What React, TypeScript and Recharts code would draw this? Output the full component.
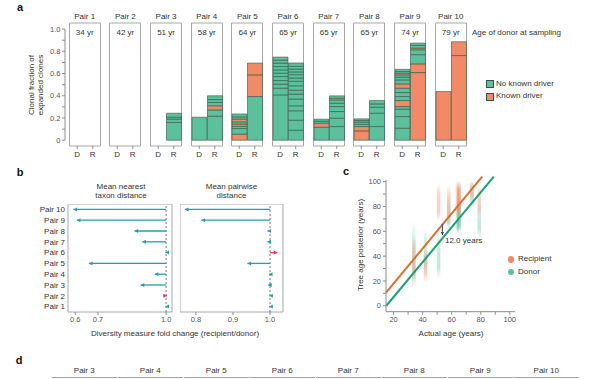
import React from 'react';
import {
  BarChart,
  Bar,
  Cell,
  ComposedChart,
  XAxis,
  YAxis,
  ReferenceArea,
  ReferenceLine,
} from 'recharts';

const FONT = '"Liberation Sans", Arial, Helvetica, sans-serif';
const INK = '#333';
const TICK = '#555';
const AXIS = '#8c8c8c';
const BOX = '#a8a8a8';
const GREEN = '#5dc09c';
const ORANGE = '#f28a68';
const EDGE = '#2f5546';
const TEAL = '#23a2a4';
const PINK = '#d9366f';
const REC = '#d9702f';
const DON = '#1f9e72';

// ---- panel a: clonal fraction of expanded clones ----
const pairNames = ['Pair 1', 'Pair 2', 'Pair 3', 'Pair 4', 'Pair 5', 'Pair 6', 'Pair 7', 'Pair 8', 'Pair 9', 'Pair 10'];
const donorAges = [34, 42, 51, 58, 64, 65, 65, 65, 74, 79];
const driverLabels = ['No known driver', 'Known driver'];

// clone segments bottom -> top: [fraction, n = no known driver, k = known driver]
type Seg = [number, 'n' | 'k'];
const donorClones: Seg[][] = [
  [],
  [],
  [],
  [[0.207, 'n']],
  [[0.055, 'k'], [0.05, 'n'], [0.02, 'n'], [0.02, 'k'], [0.02, 'n'], [0.025, 'k'], [0.02, 'n'], [0.026, 'n']],
  [[0.408, 'n'], [0.06, 'n'], [0.037, 'n'], [0.032, 'n'], [0.036, 'n'], [0.03, 'n'], [0.03, 'n'], [0.03, 'n'], [0.031, 'n'], [0.026, 'n'], [0.028, 'n']],
  [[0.117, 'n'], [0.036, 'k'], [0.018, 'n'], [0.018, 'n']],
  [[0.084, 'k'], [0.039, 'k'], [0.02, 'n'], [0.02, 'n'], [0.015, 'n'], [0.014, 'n']],
  [[0.108, 'n'], [0.105, 'n'], [0.066, 'n'], [0.024, 'n'], [0.054, 'k'], [0.036, 'n'], [0.036, 'n'], [0.039, 'n'], [0.039, 'k'], [0.036, 'n'], [0.025, 'n'], [0.02, 'n'], [0.015, 'k'], [0.015, 'n'], [0.02, 'n']],
  [[0.438, 'k']],
];
const recipClones: Seg[][] = [
  [],
  [],
  [[0.16, 'n'], [0.03, 'n'], [0.017, 'n'], [0.036, 'n']],
  [[0.216, 'n'], [0.057, 'n'], [0.037, 'k'], [0.03, 'n'], [0.026, 'n'], [0.034, 'n']],
  [[0.393, 'n'], [0.195, 'k'], [0.106, 'k']],
  [[0.09, 'n'], [0.09, 'n'], [0.085, 'n'], [0.045, 'n'], [0.06, 'n'], [0.045, 'n'], [0.035, 'n'], [0.04, 'n'], [0.04, 'n'], [0.03, 'n'], [0.03, 'n'], [0.025, 'n'], [0.025, 'n'], [0.025, 'n'], [0.03, 'n']],
  [[0.123, 'n'], [0.075, 'n'], [0.06, 'n'], [0.045, 'n'], [0.03, 'n'], [0.03, 'n'], [0.015, 'k'], [0.021, 'n']],
  [[0.123, 'n'], [0.12, 'n'], [0.054, 'n'], [0.03, 'n'], [0.03, 'n']],
  [[0.609, 'k'], [0.078, 'k'], [0.083, 'n'], [0.044, 'n'], [0.015, 'k'], [0.024, 'n'], [0.021, 'n']],
  [[0.762, 'k'], [0.124, 'k']],
];
const fracTicks = [0, 0.1, 0.2, 0.3, 0.4, 0.5, 0.6, 0.7, 0.8, 0.9, 1.0];
const FRAC_DOMAIN: [number, number] = [-0.052, 1.055];

// ---- panel b: diversity fold change (recipient/donor), Pair 1..10 ----
const ntdFold = [0.997, 1.004, 0.888, 0.95, 0.66, 0.997, 0.895, 0.861, 0.607, 0.592];
const mpdFold = [0.998, 0.998, 0.995, 0.997, 0.939, 1.02, 0.993, 0.993, 0.815, 0.77];
const ntdTicks = [0.6, 0.7, 1.0];
const mpdTicks = [0.8, 0.9, 1.0];

// ---- panel c: tree age posterior vs actual age ----
const recipRange: [number, number][] = [[18, 55], [19, 45], [68, 98], [65, 97], [72, 101], [75, 101], [70, 98], [74, 100], [85, 101], [72, 97]];
const donorRange: [number, number][] = [[13, 68], [25, 62], [22, 60], [60, 88], [57, 84], [60, 85], [58, 82], [62, 86], [78, 100], [55, 82]];
const recipFit = [{ age: 14.8, y: 10.5 }, { age: 81, y: 104 }];
const donorFit = [{ age: 15, y: 0 }, { age: 89, y: 104 }];
const gapArrow = [{ age: 53.6, y: 66 }, { age: 53.6, y: 57 }];
const gapLabel = '12.0 years';
const ageTicks = [20, 30, 40, 50, 60, 70, 80, 90, 100];
const postTicks = [0, 10, 20, 30, 40, 50, 60, 70, 80, 90, 100];

const boxLeft = (i: number) => 67.7 + i * 40.67;
const tickFont = { fontSize: 7.5, fill: TICK, fontFamily: FONT };

function Txt({ x, y, children, size = 8, anchor = 'middle', bold = false, rotate = 0, color = INK }: any) {
  const tx = anchor === 'middle' ? '-50%' : anchor === 'end' ? '-100%' : '0';
  return (
    <div
      style={{
        position: 'absolute',
        left: x,
        top: y,
        transform: `translate(${tx},-50%)${rotate ? ` rotate(${rotate}deg)` : ''}`,
        fontSize: size,
        fontWeight: bold ? 700 : 400,
        color,
        whiteSpace: 'nowrap',
        textAlign: 'center',
        lineHeight: 1.15,
        fontFamily: FONT,
      }}
    >
      {children}
    </div>
  );
}

const arrowShape = (color: string, width: number, head: number) => (p: any) => {
  const { x1, y1, x2, y2 } = p;
  const ang = Math.atan2(y2 - y1, x2 - x1);
  const bx = x2 - head * Math.cos(ang);
  const by = y2 - head * Math.sin(ang);
  const nx = -Math.sin(ang) * head * 0.55;
  const ny = Math.cos(ang) * head * 0.55;
  return (
    <g>
      <line x1={x1} y1={y1} x2={x2} y2={y2} stroke={color} strokeWidth={width} />
      <path d={`M${x2},${y2}L${bx + nx},${by + ny}L${bx - nx},${by - ny}Z`} fill={color} />
    </g>
  );
};

const maxSeg = Math.max(...donorClones.map((s) => s.length), ...recipClones.map((s) => s.length));
const segKeys = Array.from({ length: maxSeg }, (_, j) => `s${j}`);

function PairBars({ idx }: { idx: number }) {
  const sides: [string, Seg[]][] = [
    ['D', donorClones[idx]],
    ['R', recipClones[idx]],
  ];
  const rows = sides.map(([side, segs]) => {
    const row: Record<string, any> = { side };
    segs.forEach(([v], j) => {
      row[`s${j}`] = v;
    });
    return row;
  });
  return (
    <div style={{ position: 'absolute', left: boxLeft(idx), top: 0 }}>
      <BarChart width={34} height={162} data={rows} margin={{ top: 23, right: 0, bottom: 0, left: 0 }} barCategoryGap={0.5}>
        <XAxis
          dataKey="side"
          axisLine={false}
          tickLine={{ stroke: AXIS }}
          tickSize={3}
          tickMargin={2}
          height={16}
          interval={0}
          padding={{ left: 1.5, right: 1.5 }}
          tick={{ fontSize: 8, fill: INK, fontFamily: FONT }}
        />
        <YAxis hide width={0} type="number" domain={FRAC_DOMAIN} allowDataOverflow />
        <ReferenceArea y1={FRAC_DOMAIN[0]} y2={FRAC_DOMAIN[1]} fill="none" stroke={BOX} ifOverflow="visible" />
        {segKeys.map((key, j) => (
          <Bar key={key} dataKey={key} stackId="c" stroke={EDGE} strokeWidth={0.6} isAnimationActive={false}>
            {sides.map(([side, segs]) => (
              <Cell key={side} fill={segs[j] && segs[j][1] === 'k' ? ORANGE : GREEN} />
            ))}
          </Bar>
        ))}
      </BarChart>
    </div>
  );
}

function FracAxis() {
  const rows = fracTicks.map((v) => ({ v }));
  return (
    <div style={{ position: 'absolute', left: 0, top: 0 }}>
      <ComposedChart width={68} height={162} data={rows} margin={{ top: 23, right: 3, bottom: 16, left: 0 }}>
        <XAxis hide type="number" domain={[0, 1]} />
        <YAxis
          type="number"
          domain={FRAC_DOMAIN}
          allowDataOverflow
          ticks={fracTicks}
          interval={0}
          width={65}
          axisLine={false}
          tickLine={{ stroke: AXIS }}
          tickSize={3}
          tickMargin={1.5}
          tick={tickFont}
          tickFormatter={(v: number) => (Math.round(v * 10) % 2 === 0 ? (v === 0 ? '0' : v.toFixed(1)) : '')}
        />
        <ReferenceLine segment={[{ x: 0, y: 0 }, { x: 0, y: 1 }]} stroke={AXIS} ifOverflow="visible" />
      </ComposedChart>
    </div>
  );
}

const bRows = pairNames
  .map((pair, i) => ({ pair, ntd: ntdFold[i], mpd: mpdFold[i] }))
  .reverse();

function FoldPanel({ left, width, field, domain, ticks, showPairs }: any) {
  return (
    <div style={{ position: 'absolute', left, top: 204 }}>
      <ComposedChart layout="vertical" width={width} height={126} data={bRows} margin={{ top: 0, right: 3, bottom: 0, left: 0 }}>
        <XAxis
          type="number"
          domain={domain}
          allowDataOverflow
          ticks={ticks}
          interval={0}
          height={18}
          axisLine={false}
          tickLine={{ stroke: AXIS }}
          tickSize={3}
          tickMargin={2}
          tick={tickFont}
          tickFormatter={(v: number) => v.toFixed(1)}
        />
        <YAxis
          type="category"
          scale="band"
          dataKey="pair"
          hide={!showPairs}
          width={showPairs ? 68 : 0}
          axisLine={false}
          tickLine={false}
          tickSize={0}
          tickMargin={3}
          interval={0}
          tick={{ fontSize: 8, fill: INK, fontFamily: FONT }}
        />
        <ReferenceArea x1={domain[0]} x2={domain[1]} fill="none" stroke={BOX} ifOverflow="visible" />
        <ReferenceLine x={1} stroke="#555" strokeDasharray="2 2" strokeWidth={0.8} />
        {bRows.map((r: any) => (
          <ReferenceLine
            key={r.pair}
            segment={[{ x: 1, y: r.pair }, { x: r[field], y: r.pair }]}
            ifOverflow="visible"
            shape={arrowShape(r[field] > 1 ? PINK : TEAL, 1.3, 3.6)}
          />
        ))}
      </ComposedChart>
    </div>
  );
}

function AgePanel() {
  const rows = donorAges.map((age, i) => ({ age, rec: recipRange[i], don: donorRange[i] }));
  return (
    <div style={{ position: 'absolute', left: 345, top: 170 }}>
      <ComposedChart width={175} height={172} data={rows} margin={{ top: 9.8, right: 5, bottom: 0, left: 0 }}>
        <defs>
          <linearGradient id="cloudRec" x1="0" y1="0" x2="0" y2="1">
            <stop offset="0%" stopColor={ORANGE} stopOpacity={0} />
            <stop offset="25%" stopColor={ORANGE} stopOpacity={0.7} />
            <stop offset="75%" stopColor={ORANGE} stopOpacity={0.8} />
            <stop offset="100%" stopColor={ORANGE} stopOpacity={0} />
          </linearGradient>
          <linearGradient id="cloudDon" x1="0" y1="0" x2="0" y2="1">
            <stop offset="0%" stopColor={GREEN} stopOpacity={0} />
            <stop offset="30%" stopColor={GREEN} stopOpacity={0.6} />
            <stop offset="75%" stopColor={GREEN} stopOpacity={0.75} />
            <stop offset="100%" stopColor={GREEN} stopOpacity={0} />
          </linearGradient>
        </defs>
        <XAxis
          type="number"
          dataKey="age"
          domain={[14.8, 103.6]}
          allowDataOverflow
          ticks={ageTicks}
          interval={0}
          height={30.3}
          stroke={AXIS}
          tickSize={3}
          tickMargin={2}
          tick={tickFont}
          tickFormatter={(v: number) => (v % 20 === 0 ? String(v) : '')}
        />
        <YAxis
          type="number"
          domain={[-4.8, 101.5]}
          allowDataOverflow
          ticks={postTicks}
          interval={0}
          width={41}
          stroke={AXIS}
          tickSize={3}
          tickMargin={2}
          tick={tickFont}
          tickFormatter={(v: number) => (v % 20 === 0 ? String(v) : '')}
        />
        {rows.map((r, i) => (
          <ReferenceArea key={`d${i}`} x1={r.age - 1.2} x2={r.age + 1.2} y1={r.don[0]} y2={r.don[1]} fill="url(#cloudDon)" ifOverflow="visible" />
        ))}
        {rows.map((r, i) => (
          <ReferenceArea key={`r${i}`} x1={r.age - 1.2} x2={r.age + 1.2} y1={r.rec[0]} y2={r.rec[1]} fill="url(#cloudRec)" ifOverflow="visible" />
        ))}
        <ReferenceLine segment={recipFit.map((p) => ({ x: p.age, y: p.y }))} stroke={REC} strokeWidth={2} ifOverflow="visible" />
        <ReferenceLine segment={donorFit.map((p) => ({ x: p.age, y: p.y }))} stroke={DON} strokeWidth={2} ifOverflow="visible" />
        <ReferenceLine
          segment={gapArrow.map((p) => ({ x: p.age, y: p.y }))}
          ifOverflow="visible"
          shape={arrowShape('#2d4a5a', 1, 3)}
        />
      </ComposedChart>
    </div>
  );
}

export default function App() {
  return (
    <div
      style={{
        position: 'absolute',
        left: 0,
        top: 0,
        width: 612,
        height: 379,
        overflow: 'hidden',
        background: '#fff',
        fontFamily: FONT,
      }}
    >
      {/* a */}
      <Txt x={20} y={7} size={11} bold color="#111">a</Txt>
      <FracAxis />
      {pairNames.map((name, i) => (
        <React.Fragment key={name}>
          <PairBars idx={i} />
          <Txt x={boxLeft(i) + 17} y={17}>{name}</Txt>
          <Txt x={boxLeft(i) + 17} y={33}>{`${donorAges[i]} yr`}</Txt>
        </React.Fragment>
      ))}
      <Txt x={36} y={85} rotate={-90}>
        Clonal fraction of
        <br />
        expanded clones
      </Txt>
      <Txt x={472} y={33} anchor="start">Age of donor at sampling</Txt>
      {driverLabels.map((label, i) => (
        <React.Fragment key={label}>
          <div
            style={{
              position: 'absolute',
              left: 485.5,
              top: 80 + i * 12.7,
              width: 6,
              height: 6,
              background: i === 0 ? GREEN : ORANGE,
              border: `0.6px solid ${EDGE}`,
            }}
          />
          <Txt x={496} y={83.5 + i * 12.7} anchor="start">{label}</Txt>
        </React.Fragment>
      ))}

      {/* b */}
      <Txt x={20} y={172} size={11} bold color="#111">b</Txt>
      <Txt x={121} y={191}>
        Mean nearest
        <br />
        taxon distance
      </Txt>
      <Txt x={231.5} y={191}>
        Mean pairwise
        <br />
        distance
      </Txt>
      <FoldPanel left={0} width={175} field="ntd" domain={[0.568, 1.026]} ticks={ntdTicks} showPairs />
      <FoldPanel left={180} width={106} field="mpd" domain={[0.757, 1.035]} ticks={mpdTicks} showPairs={false} />
      <Txt x={175} y={334}>Diversity measure fold change (recipient/donor)</Txt>

      {/* c */}
      <Txt x={346} y={171} size={11} bold color="#111">c</Txt>
      <AgePanel />
      <Txt x={361} y={245} rotate={-90}>Tree age posterior (years)</Txt>
      <Txt x={451} y={334}>Actual age (years)</Txt>
      <Txt x={445} y={241} anchor="start">{gapLabel}</Txt>
      {[
        ['Recipient', ORANGE],
        ['Donor', GREEN],
      ].map(([label, color], i) => (
        <React.Fragment key={label}>
          <div
            style={{
              position: 'absolute',
              left: 507.5,
              top: 256 + i * 12.7,
              width: 6.5,
              height: 6.5,
              borderRadius: '50%',
              background: color,
            }}
          />
          <Txt x={518} y={259.2 + i * 12.7} anchor="start">{label}</Txt>
        </React.Fragment>
      ))}

      {/* d */}
      <Txt x={19} y={360} size={11} bold color="#111">d</Txt>
      <div style={{ position: 'absolute', left: 52, top: 364, display: 'flex' }}>
        {pairNames.slice(2).map((name) => (
          <div
            key={name}
            style={{
              width: 64.5,
              marginRight: 1.5,
              height: 13,
              borderBottom: '1.5px solid #a0a0a0',
              textAlign: 'center',
              fontSize: 8,
              color: INK,
              lineHeight: '14px',
            }}
          >
            {name}
          </div>
        ))}
      </div>
    </div>
  );
}
